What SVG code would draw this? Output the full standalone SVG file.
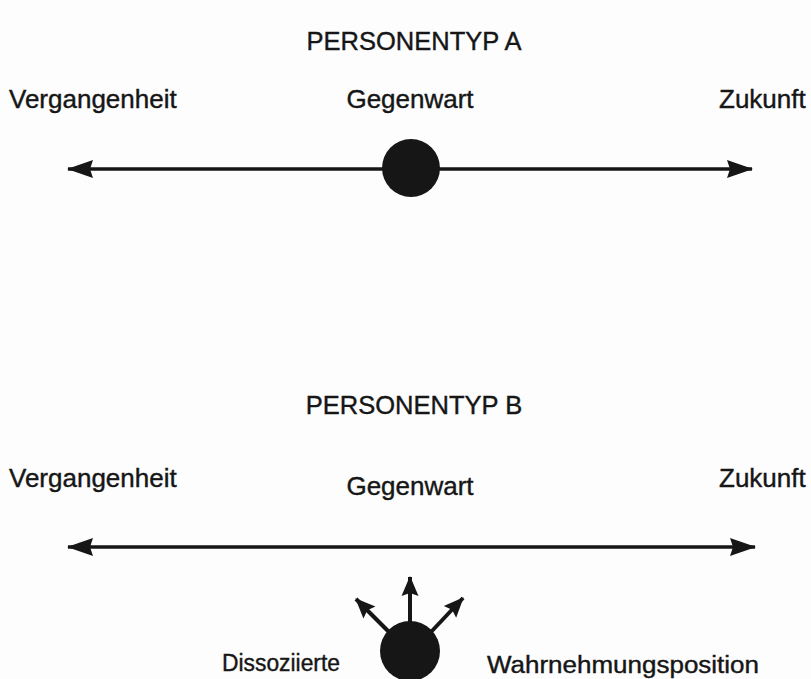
<svg xmlns="http://www.w3.org/2000/svg" width="811" height="679" viewBox="0 0 811 679">
  <defs>
    <style>
      .lbl { font-family: "Liberation Sans", Arial, sans-serif; font-size: 26px; fill: #161616; stroke: #161616; stroke-width: 0.4; }
      .title { font-size: 25.5px; }
      .small { font-size: 23.5px; }
      .axis { stroke: #161616; stroke-width: 3.5; fill: none; }
      .view { stroke: #161616; stroke-width: 4; fill: none; }
      .dot { fill: #161616; }
    </style>
    <marker id="head" viewBox="-27 -10 29 20" refX="0" refY="0" markerWidth="29" markerHeight="20" markerUnits="userSpaceOnUse" orient="auto-start-reverse">
      <path d="M1,0 L-25,-9 L-22,0 L-25,9 Z" fill="#161616"/>
    </marker>
    <marker id="headSmall" viewBox="-21 -10 23 20" refX="0" refY="0" markerWidth="23" markerHeight="20" markerUnits="userSpaceOnUse" orient="auto">
      <path d="M1,0 L-19,-8.5 L-16,0 L-19,8.5 Z" fill="#161616"/>
    </marker>
  </defs>

  <rect width="811" height="679" fill="#fdfdfd"/>

  <!-- Type A: timeline running through the person -->
  <g id="title-a"><text class="lbl title" x="414" y="50" text-anchor="middle">PERSONENTYP A</text></g>
  <g id="past-a"><text class="lbl" x="9" y="108">Vergangenheit</text></g>
  <g id="present-a"><text class="lbl" x="410" y="108" text-anchor="middle">Gegenwart</text></g>
  <g id="future-a"><text class="lbl" x="719" y="108">Zukunft</text></g>
  <g id="person-a"><circle class="dot" cx="411" cy="168" r="29"/></g>

  <!-- Type B: timeline in front of the person -->
  <g id="title-b"><text class="lbl title" x="414" y="414" text-anchor="middle">PERSONENTYP B</text></g>
  <g id="past-b"><text class="lbl" x="9" y="487">Vergangenheit</text></g>
  <g id="present-b"><text class="lbl" x="410" y="495" text-anchor="middle">Gegenwart</text></g>
  <g id="future-b"><text class="lbl" x="719" y="487">Zukunft</text></g>
  <g id="person-b"><circle class="dot" cx="410" cy="651" r="30"/></g>
  <g id="caption-left"><text class="lbl small" x="222" y="671" textLength="118" lengthAdjust="spacingAndGlyphs">Dissoziierte</text></g>
  <g id="caption-right"><text class="lbl small" x="487" y="673" textLength="272" lengthAdjust="spacingAndGlyphs">Wahrnehmungsposition</text></g>

  <g id="connectors">
    <line class="axis" x1="68" y1="169" x2="752" y2="169" marker-start="url(#head)" marker-end="url(#head)"/>
    <line class="axis" x1="68" y1="547" x2="755" y2="547" marker-start="url(#head)" marker-end="url(#head)"/>
    <line class="view" x1="410" y1="622" x2="410" y2="577" marker-end="url(#headSmall)"/>
    <line class="view" x1="389" y1="632" x2="356" y2="599" marker-end="url(#headSmall)"/>
    <line class="view" x1="431" y1="632" x2="463" y2="598" marker-end="url(#headSmall)"/>
  </g>
</svg>
